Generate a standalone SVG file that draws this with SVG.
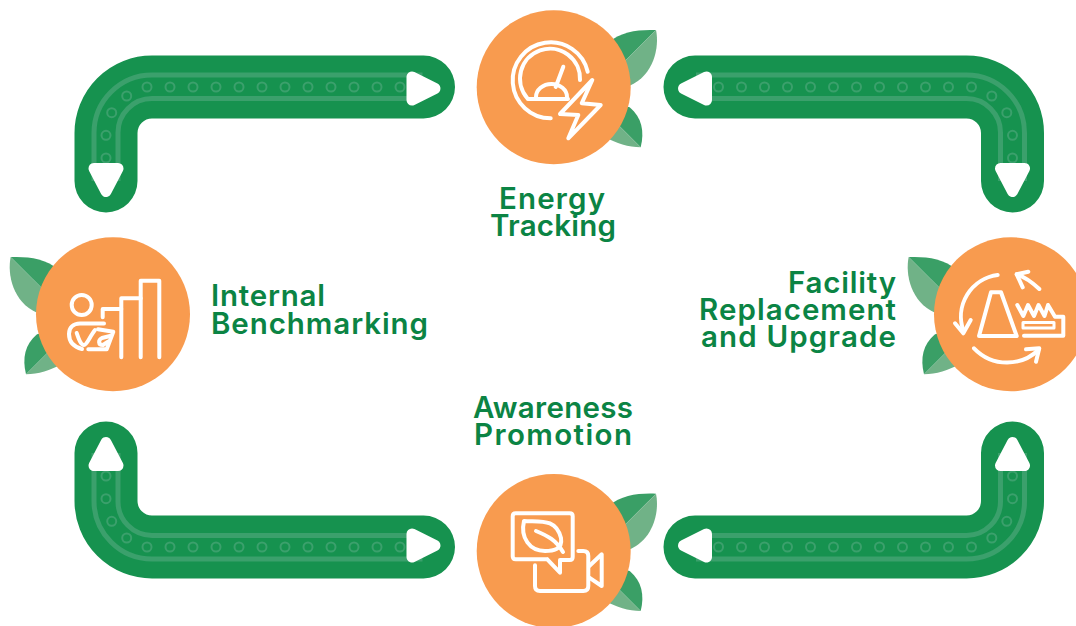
<svg xmlns="http://www.w3.org/2000/svg" width="1076" height="626" viewBox="0 0 1076 626">
<style>
.band{fill:none;stroke:#16924f;stroke-width:63;stroke-linecap:round}
.stripe{fill:none;stroke:#3ba06c;stroke-width:5}
.dot{fill:none;stroke:#3ba06c;stroke-width:2}
.head{fill:#fff;stroke:#fff;stroke-width:11;stroke-linejoin:round}
.disc{fill:#f89b4f}
.dark{fill:#3a9f66}
.light{fill:#70b287}
.ico{fill:none;stroke:#fff;stroke-width:4;stroke-linecap:round;stroke-linejoin:round}
.label{font-family:"Inter","Liberation Sans",sans-serif;font-weight:600;font-size:29.500px;fill:#0b8444}
</style>
<defs>
<g id="track">
<path class="band" d="M423.500 87H152A46 46 0 0 0 106 133V181"/>
<path class="stripe" d="M422.500 75H152A58 58 0 0 0 94 133V181"/>
<path class="stripe" d="M422.500 98.500H152A34 34 0 0 0 118 133V181"/>
<g class="dot">
<circle cx="147" cy="87" r="4.500"/><circle cx="170" cy="87" r="4.500"/><circle cx="193" cy="87" r="4.500"/><circle cx="216" cy="87" r="4.500"/><circle cx="239" cy="87" r="4.500"/><circle cx="262" cy="87" r="4.500"/><circle cx="285" cy="87" r="4.500"/><circle cx="308" cy="87" r="4.500"/><circle cx="331" cy="87" r="4.500"/><circle cx="354" cy="87" r="4.500"/><circle cx="377" cy="87" r="4.500"/><circle cx="400" cy="87" r="4.500"/>
<circle cx="126.700" cy="96" r="4.500"/><circle cx="111.700" cy="112.700" r="4.500"/><circle cx="106" cy="135.300" r="4.500"/><circle cx="106" cy="158" r="4.500"/>
</g>
<polygon class="head" points="412,77 412,100 435,88.500"/>
<polygon class="head" points="94,168.500 118,168.500 106,191.500"/>
</g>
<g id="leaves">
<path class="dark" d="M102.300-57.300C85-58 68-56 55-45L40-30L50-5Z"/>
<path class="light" d="M102.300-57.300C106-40 100-12 76-1.600L50 5L50-5Z"/>
<path class="dark" d="M87 60C91 44 88 30 76 20L55 15L50 23Z"/>
<path class="light" d="M87 60C75 60 62 56 52 50L40 40L50 23Z"/>
</g>
</defs>
<g id="connectors">
<use href="#track"/>
<use href="#track" transform="translate(1118.500 0) scale(-1 1)"/>
<use href="#track" transform="translate(0 634) scale(1 -1)"/>
<use href="#track" transform="translate(1118.500 634) scale(-1 -1)"/>
</g>
<g id="node-energy-tracking">
<use href="#leaves" transform="translate(553.700 87.300)"/>
<circle class="disc" cx="553.700" cy="87.300" r="77"/>
<g class="ico">
<path d="M587.700 71.700A38 38 0 1 0 550.700 118.300"/>
<path d="M580 80A30 30 0 1 0 527.500 98.500"/>
<path d="M528 99H568"/>
<path d="M536 97A15.500 13 0 0 1 567 97"/>
<path d="M555.700 87L563.300 66.700"/>
<path d="M592.300 80L560 114L578.300 115L568.300 138.300L600.700 105L581.700 103.300Z"/>
</g>
<text class="label" x="552" y="209" text-anchor="middle" textLength="106">Energy</text>
<text class="label" x="553" y="236" text-anchor="middle" textLength="126">Tracking</text>
</g>
<g id="node-internal-benchmarking">
<use href="#leaves" transform="translate(113 314.300) scale(-1 1)"/>
<circle class="disc" cx="113" cy="314.300" r="77"/>
<g class="ico">
<circle cx="81.700" cy="305" r="10"/>
<path d="M140.700 357.300V280.700H159.300V357.300"/>
<path d="M121.300 357.300V298.300H140.700"/>
<path d="M102.700 317.300V309H121.300"/>
<path d="M104 323.500H80C73 323.500 69 328 69 334C69 342 74 347 82 349"/>
<path d="M76.700 333C79 340 81 345 84 345C87 345 90 336 95 330"/>
<path d="M98 329.300L113.300 331.700L106.700 349.300H88.300"/>
<path d="M110 336L102 338C98 340 98 345 103 345L108 341.700"/>
</g>
<text class="label" x="211" y="306" textLength="114">Internal</text>
<text class="label" x="211" y="334" textLength="217">Benchmarking</text>
</g>
<g id="node-facility-replacement">
<use href="#leaves" transform="translate(1011 314.300) scale(-1 1)"/>
<circle class="disc" cx="1011" cy="314.300" r="77"/>
<g class="ico">
<path d="M997.700 275A42 42 0 0 0 963.500 331"/>
<path d="M955 323.300L963.300 333.300L970.700 320"/>
<path d="M974 348.300C993 368 1022 366 1038.300 350"/>
<path d="M1026 349.300L1039.300 348.300L1036 361.700"/>
<path d="M1039.300 289C1032 282 1025 277 1016.700 274.300"/>
<path d="M1028.300 271.700L1016.700 274.300L1022.700 287.300"/>
<path d="M991 292.300H1001L1016.700 336H979Z"/>
<path d="M1017.300 305L1023.300 316L1028 305L1034 316L1038.500 305L1044.500 316L1048 305L1055 316.700H1063.300V335.700H1024"/>
<rect x="1023" y="322.500" width="31" height="5.500" stroke-width="3"/>
</g>
<text class="label" x="896" y="293" text-anchor="end" textLength="108">Facility</text>
<text class="label" x="896" y="320" text-anchor="end" textLength="197">Replacement</text>
<text class="label" x="896" y="347" text-anchor="end" textLength="195">and Upgrade</text>
</g>
<g id="node-awareness-promotion">
<use href="#leaves" transform="translate(553.700 551)"/>
<circle class="disc" cx="553.700" cy="551" r="77"/>
<g class="ico">
<path d="M547.300 559.300H515.700Q512.700 559.300 512.700 556.300V516.300Q512.700 513.300 515.700 513.300H569.700Q572.700 513.300 572.700 516.300V557Q572.700 560 569.700 560H560V572.700L547.300 559.300"/>
<path d="M535 565.300V586Q535 591 540 591H583.300Q588.300 591 588.300 586V556Q588.300 551 583.300 551H578.300"/>
<path d="M589.300 566L601.700 554.300V586L589.300 577.700"/>
<path d="M524 521C540 522 556 518 561 538C563 550 552 551 545 551C530 551 520 538 524 521Z"/>
<path d="M536 531C548 536 556 540 563 552"/>
</g>
<text class="label" x="553" y="418" text-anchor="middle" textLength="160">Awareness</text>
<text class="label" x="553" y="445" text-anchor="middle" textLength="158">Promotion</text>
</g>
</svg>
